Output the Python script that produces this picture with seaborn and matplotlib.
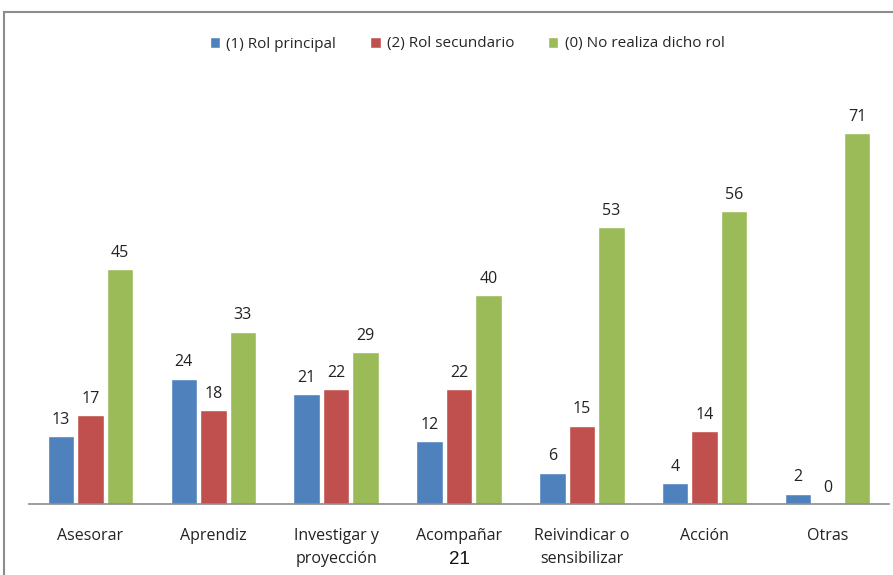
import pandas as pd
import matplotlib.pyplot as plt
import seaborn as sns
from matplotlib.patches import Rectangle
from matplotlib.transforms import blended_transform_factory

categorias = ["Asesorar", "Aprendiz", "Investigar y\nproyección", "Acompañar",
              "Reivindicar o\nsensibilizar", "Acción", "Otras"]
series = ["(1) Rol principal", "(2) Rol secundario", "(0) No realiza dicho rol"]
rol_principal = [13, 24, 21, 12, 6, 4, 2]
rol_secundario = [17, 18, 22, 22, 15, 14, 0]
no_realiza = [45, 33, 29, 40, 53, 56, 71]
colores = ["#4F81BD", "#C0504D", "#9BBB59"]

df = pd.DataFrame({
    "categoria": categorias * 3,
    "serie": [series[0]] * 7 + [series[1]] * 7 + [series[2]] * 7,
    "valor": rol_principal + rol_secundario + no_realiza,
})

sns.set_style("white")
plt.rcParams["font.family"] = ["Open Sans", "DejaVu Sans"]

fig = plt.figure(figsize=(8.93, 5.75), dpi=100)
ax = fig.add_axes([29 / 893, 71 / 575, 860 / 893, 418 / 575])

sns.barplot(data=df, x="categoria", y="valor", hue="serie", palette=colores,
            width=0.72, gap=0.1, ax=ax, saturation=1, legend=True)

for cont in ax.containers:
    ax.bar_label(cont, padding=6, fontsize=11.5, color="#222222")

ax.set_ylim(0, 80)
ax.set_xlim(-0.5, 6.5)
ax.set_xlabel("")
ax.set_ylabel("")
ax.set_yticks([])
ax.tick_params(axis="x", length=0, pad=17, labelsize=11.5, labelcolor="#222222")
for lbl in ax.get_xticklabels():
    lbl.set_linespacing(1.6)
for s in ["top", "right", "left"]:
    ax.spines[s].set_visible(False)
ax.spines["bottom"].set_color("#8c8c8c")
ax.spines["bottom"].set_linewidth(1.2)

# stray "21" under Acompañar
trans = blended_transform_factory(ax.transData, fig.transFigure)
ax.text(3, 1 - 559 / 575, "21", transform=trans, ha="center", va="center",
        fontsize=13.5, color="#111111", family=["Liberation Sans", "DejaVu Sans"])

handles, labels = ax.get_legend_handles_labels()
ax.get_legend().remove()
fig.legend(handles, labels, loc="center", bbox_to_anchor=(467 / 893, 1 - 44 / 575),
           ncol=3, frameon=False, fontsize=11, handlelength=0.7, handleheight=0.7,
           handletextpad=0.4, columnspacing=2.2)

# chart frame
fig.patches.append(Rectangle((4 / 893, -0.1), 1.2, 0.1 + 1 - 12 / 575,
                             transform=fig.transFigure, fill=False,
                             edgecolor="#8c8c8c", linewidth=1.5))

fig.savefig("out.png", dpi=100)
